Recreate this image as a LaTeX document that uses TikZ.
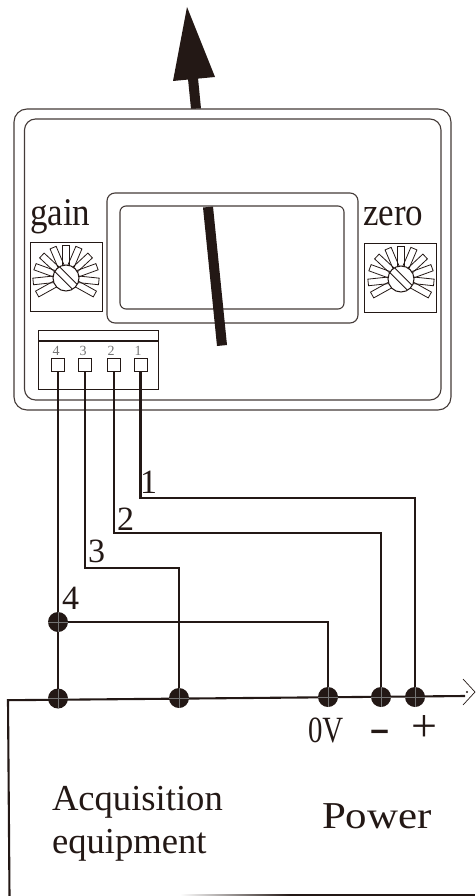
\documentclass[tikz,border=0pt]{standalone}
\usepackage{fontspec}
\setmainfont{Liberation Serif}
\definecolor{ink}{HTML}{231815}
\tikzset{
  x=1pt,y=-1pt,
  every node/.style={inner sep=0pt,outer sep=0pt,text=ink},
  panel/.style={draw=ink!85,line width=1.1pt},
  boxline/.style={draw=ink,line width=0.9pt},
  wire/.style={draw=ink,line width=2.1pt},
  junction/.style={circle,fill=ink,minimum size=20pt,path picture={
    \draw[black!55,line width=0.5pt] (path picture bounding box.north) -- (path picture bounding box.south)
      (path picture bounding box.west) -- (path picture bounding box.east);}},
  pin/.style={rectangle,draw=ink,line width=0.9pt,fill=white,minimum size=13pt},
  lab/.style={anchor=base west},
  pinnum/.style={anchor=base,text=black!55,font=\fontsize{14}{14}\selectfont},
}
\newcommand{\mydial}[2]{%
  \begin{scope}[shift={(#1,#2)}]
    \foreach \a in {-29,-6,20,43,67,90,113,137,160,186,209}{
      \draw[boxline,line width=0.8pt,rotate=\a] (11,-3.3) rectangle (33,3.3);
    }
    \draw[boxline,line width=1pt,fill=white] (0,0) circle (13);
    \draw[boxline,line width=0.8pt] (-11,-6.2) -- (6.2,11) (-6.2,-11) -- (11,6.2);
  \end{scope}}
\begin{document}
\begin{tikzpicture}
\useasboundingbox (0,0) rectangle (475,896);
% arrow
\fill[ink] (188,79) -- (198,78) -- (201,108.5) -- (191,109) -- cycle;
\fill[ink] (187,7) -- (215,77) -- (173,81) -- cycle;
% instrument
\draw[panel,rounded corners=13pt] (14,109) rectangle (451,410);
\draw[panel,rounded corners=11pt] (24.5,119) rectangle (441,400);
\draw[panel,rounded corners=8pt] (107,193) rectangle (358,323);
\draw[panel,rounded corners=6pt] (120,206) rectangle (344,309);
\fill[ink] (203,207.5) -- (213,206.5) -- (227,345) -- (217,346) -- cycle;
\draw[boxline] (30,242) rectangle (102,311);
\draw[boxline] (364,243) rectangle (436,312);
\mydial{66}{278}
\mydial{401}{279}
\node[lab,font=\fontsize{35}{35}\selectfont,yscale=1.12] (gain) at (30,225) {gain};
\node[lab,font=\fontsize{35}{35}\selectfont,yscale=1.12] (zero) at (363,225) {zero};
% terminal block
\draw[boxline] (38,330) rectangle (158,389);
\draw[draw=ink,line width=1.4pt] (38,341) -- (158,341);
\node[pin] (t4) at (58,365) {};
\node[pin] (t3) at (85,365) {};
\node[pin] (t2) at (114,365) {};
\node[pin] (t1) at (140.5,365) {};
\node[pinnum] (n4) at (56,355) {4};
\node[pinnum] (n3) at (83,355) {3};
\node[pinnum] (n2) at (111,355) {2};
\node[pinnum] (n1) at (138,355) {1};
% bottom equipment outline
\draw[wire,line cap=butt] (9.5,896) -- (8,700.2) -- (465,696);
\shade[left color=white,right color=ink] (180,894) rectangle (290,896);
\fill[ink] (290,894) rectangle (475,896);
\draw[draw=ink,line width=0.7pt] (463,679) -- (475,692) -- (463,705);
\fill[ink] (467,692) circle (1.2);
% junctions
\node[junction] (jm) at (58,622) {};
\node[junction] (ja) at (58,698.5) {};
\node[junction] (jb) at (179,698) {};
\node[junction] (j0) at (328,697) {};
\node[junction] (jn) at (381,697) {};
\node[junction] (jp) at (415,697) {};
\coordinate (c1) at (140.5,498);
\coordinate (c2) at (114,533);
\coordinate (c3) at (85,568);
% wires
\draw[wire] (t1.south) -- (c1) -| (jp);
\draw[wire] (t2.south) -- (c2) -| (jn);
\draw[wire] (t3.south) -- (c3) -| (jb);
\draw[wire] (t4.south) -- (jm);
\draw[wire] (jm) -- (ja);
\draw[wire] (jm) -| (j0);
% wire numbers
\node[lab,font=\fontsize{34}{34}\selectfont] (w1) at (140,493) {1};
\node[lab,font=\fontsize{34}{34}\selectfont] (w2) at (117,530) {2};
\node[lab,font=\fontsize{34}{34}\selectfont] (w3) at (88,562) {3};
\node[lab,font=\fontsize{34}{34}\selectfont] (w4) at (62,609) {4};
% terminal labels
\node[lab,font=\fontsize{37}{37}\selectfont,xscale=0.78] (zv) at (308,742) {0V};
\node[lab,font=\fontsize{45}{45}\selectfont,xscale=1.4] (mn) at (369,742) {-};
\node[lab,font=\fontsize{46}{46}\selectfont] (pl) at (411,741) {+};
% equipment labels
\node[lab,font=\fontsize{36.6}{36.6}\selectfont] (acq) at (52,810) {Acquisition};
\node[lab,font=\fontsize{36.6}{36.6}\selectfont] (eqp) at (52,853) {equipment};
\node[lab,font=\fontsize{38}{38}\selectfont,xscale=1.13] (pow) at (322,828) {Power};
\end{tikzpicture}
\end{document}
